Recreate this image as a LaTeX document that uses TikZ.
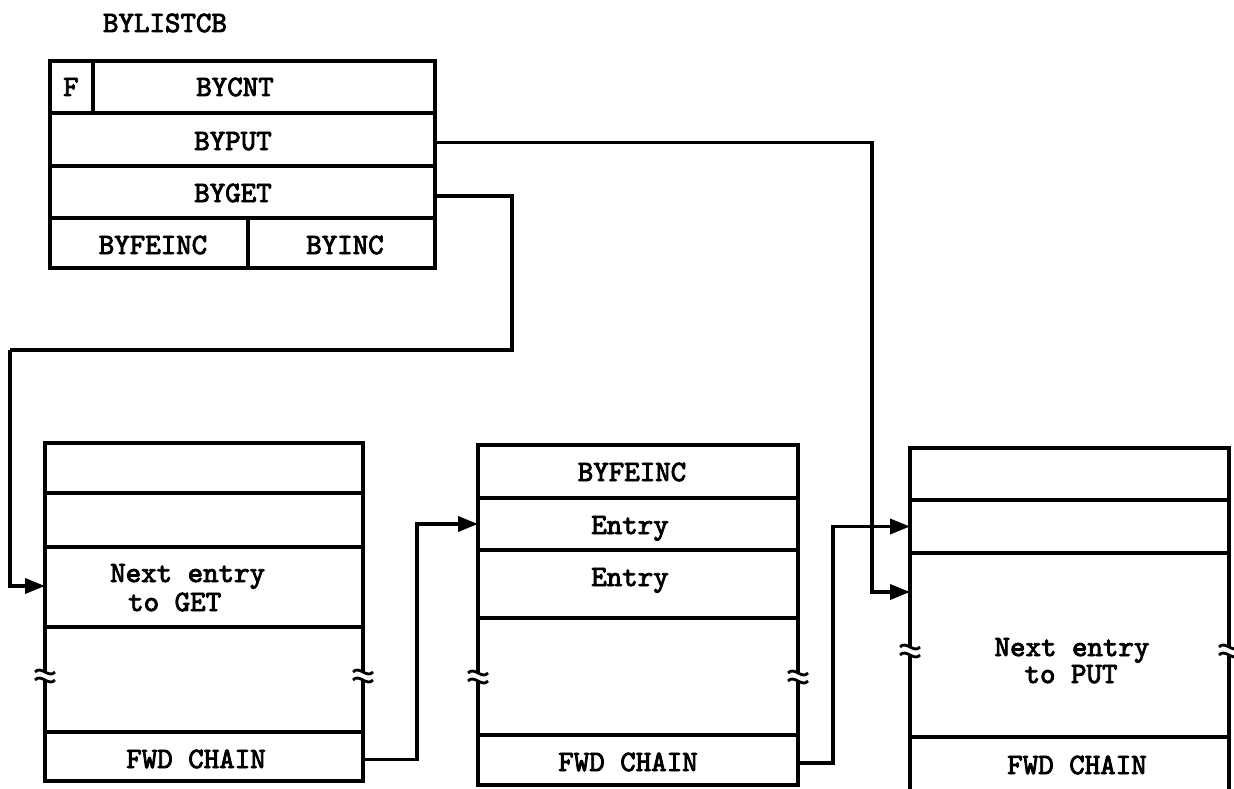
\documentclass[tikz,border=0pt]{standalone}
\usepackage{fontspec}
\newfontfamily\cour{lmmono10-regular.otf}[FakeBold=3]
\usetikzlibrary{arrows.meta}
\tikzset{
  cell/.style={draw, line width=3.8pt, inner sep=0pt, outer sep=0pt},
  edge/.style={line width=3.8pt},
  lbl/.style={font=\fontsize{29.5}{34}\cour, inner sep=0pt, text height=18pt, text depth=0pt},
  conn/.style={line width=3.6pt, line join=miter, -{Triangle[length=20pt,width=15pt]}},
  plain/.style={line width=3.6pt, line join=miter},
  brk/.pic={
    \draw[line width=2.8pt] (-10,-3) .. controls (-4,-10) and (4,4) .. (10,-3);
    \draw[line width=2.8pt] (-10,5) .. controls (-4,-2) and (4,12) .. (10,5);
  }
}
\begin{document}
\begin{tikzpicture}[x=1pt,y=-1pt]
\useasboundingbox (0,0) rectangle (1234,789);

% ---------- control block ----------
\node[lbl] (title) at (165,23) {BYLISTCB};
\node[cell, minimum width=43pt, minimum height=52pt] (fcell) at (71.5,87) {};
\node[cell, minimum width=342pt, minimum height=52pt] (bycnt) at (264,87) {};
\node[cell, minimum width=385pt, minimum height=53pt] (byput) at (242.5,139.5) {};
\node[cell, minimum width=385pt, minimum height=52pt] (byget) at (242.5,192) {};
\node[cell, minimum width=198pt, minimum height=50pt] (byfeinc) at (149,243) {};
\node[cell, minimum width=187pt, minimum height=50pt] (byinc) at (341.5,243) {};
\node[lbl] (tf) at (71,87) {F};
\node[lbl] (tcnt) at (235,87) {BYCNT};
\node[lbl] (tput) at (233,141) {BYPUT};
\node[lbl] (tget) at (233,193) {BYGET};
\node[lbl] (tfe) at (153,245) {BYFEINC};
\node[lbl] (tinc) at (345,245) {BYINC};

% ---------- box 1 ----------
\node[cell, minimum width=318pt, minimum height=50pt] (b1r1) at (204,468) {};
\node[cell, minimum width=318pt, minimum height=54pt] (b1r2) at (204,520) {};
\node[cell, minimum width=318pt, minimum height=80pt] (b1r3) at (204,587) {};
\node[cell, minimum width=318pt, minimum height=49pt] (b1r5) at (204,756.5) {};
\draw[edge] (45,627) -- (45,672) (45,680) -- (45,732);
\draw[edge] (363,627) -- (363,672) (363,680) -- (363,732);
\pic at (45,675) {brk};
\pic at (363,675) {brk};
\node[lbl, anchor=west] (n1a) at (110,573) {Next entry};
\node[lbl, anchor=west] (n1b) at (128,602) {to GET};
\node[lbl] (f1) at (196,759) {FWD CHAIN};

% ---------- box 2 ----------
\node[cell, minimum width=320pt, minimum height=53pt] (b2r1) at (638,471.5) {};
\node[cell, minimum width=320pt, minimum height=52pt] (b2r2) at (638,524) {};
\node[cell, minimum width=320pt, minimum height=68pt] (b2r3) at (638,584) {};
\node[cell, minimum width=320pt, minimum height=50pt] (b2r5) at (638,760) {};
\draw[edge] (478,618) -- (478,673) (478,681) -- (478,735);
\draw[edge] (798,618) -- (798,673) (798,681) -- (798,735);
\pic at (478,676) {brk};
\pic at (798,676) {brk};
\node[lbl] (e0) at (632,472) {BYFEINC};
\node[lbl] (e1) at (630,525) {Entry};
\node[lbl] (e2) at (630,577) {Entry};
\node[lbl] (f2) at (628,762) {FWD CHAIN};

% ---------- box 3 ----------
\node[cell, minimum width=319pt, minimum height=52pt] (b3r1) at (1069.5,474) {};
\node[cell, minimum width=319pt, minimum height=53pt] (b3r2) at (1069.5,526.5) {};
\draw[edge] (910,553) -- (910,647) (910,655) -- (910,737);
\draw[edge] (1229,553) -- (1229,647) (1229,655) -- (1229,737);
\pic at (910,650) {brk};
\pic at (1229,650) {brk};
\draw[edge] (910,790) -- (910,737) -- (1229,737) -- (1229,790);
\node[lbl] (n3a) at (1072,647) {Next entry};
\node[lbl] (n3b) at (1071,674) {to PUT};
\node[lbl] (f3) at (1077,765) {FWD CHAIN};
\coordinate (t3) at (910,592);
\coordinate (t1) at (45,586);

% ---------- connectors ----------
\coordinate (putx) at (872,0);
\coordinate (g1) at (512,350);
\coordinate (g2) at (10,350);
\coordinate (c1) at (417,0);
\coordinate (c2) at (833,0);

\draw[conn] ([yshift=-3pt]byput.east) -| (putx |- t3) -- (t3);
\draw[plain] ([yshift=-4pt]byget.east) -| (g1) -- (g2);
\draw[conn] (g2) |- (t1);
\draw[conn] ([yshift=-3pt]b1r5.east) -| (c1 |- b2r2.west) -- (b2r2.west);
\draw[conn] ([yshift=-3pt]b2r5.east) -| (c2 |- b3r2.west) -- (b3r2.west);
\end{tikzpicture}
\end{document}
